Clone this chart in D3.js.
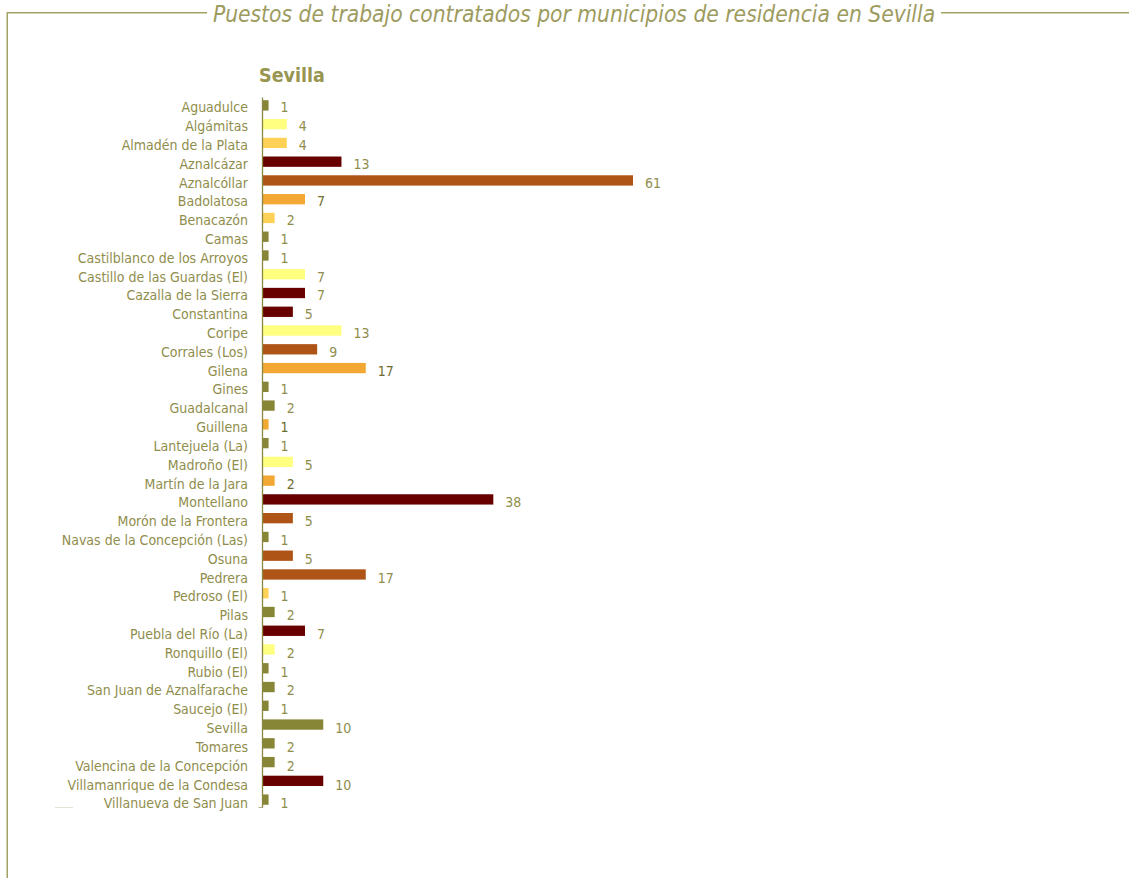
<!DOCTYPE html>
<html><head><meta charset="utf-8">
<script src="https://cdn.jsdelivr.net/npm/d3@7"></script>
<style>
html,body{margin:0;padding:0;background:#fff;}
svg{display:block;font-family:"DejaVu Sans Condensed","DejaVu Sans",sans-serif;}
</style></head><body>
<svg id="c" width="1129" height="878"></svg>
<script>
const title = "Puestos de trabajo contratados por municipios de residencia en Sevilla";
const subtitle = "Sevilla";
const categories = ["Aguadulce","Algámitas","Almadén de la Plata","Aznalcázar","Aznalcóllar","Badolatosa","Benacazón","Camas","Castilblanco de los Arroyos","Castillo de las Guardas (El)","Cazalla de la Sierra","Constantina","Coripe","Corrales (Los)","Gilena","Gines","Guadalcanal","Guillena","Lantejuela (La)","Madroño (El)","Martín de la Jara","Montellano","Morón de la Frontera","Navas de la Concepción (Las)","Osuna","Pedrera","Pedroso (El)","Pilas","Puebla del Río (La)","Ronquillo (El)","Rubio (El)","San Juan de Aznalfarache","Saucejo (El)","Sevilla","Tomares","Valencina de la Concepción","Villamanrique de la Condesa","Villanueva de San Juan"];
const values = [1,4,4,13,61,7,2,1,1,7,7,5,13,9,17,1,2,1,1,5,2,38,5,1,5,17,1,2,7,2,1,2,1,10,2,2,10,1];
const groups = ["olive","yellow","gold","darkred","rust","orange","gold","olive","olive","yellow","darkred","darkred","yellow","rust","orange","olive","olive","orange","olive","yellow","orange","darkred","rust","olive","rust","rust","gold","olive","darkred","yellow","olive","olive","olive","olive","olive","olive","darkred","olive"];
const groupNames = ["olive","yellow","gold","darkred","rust","orange"];
const groupColors = ["#878536","#FFFF80","#FFD257","#680000","#AE5417","#F2A833"];

const svg = d3.select("#c");
const textColor = "#8f8d4c";
const frameColor = "#a3a163";

// frame
svg.append("path").attr("d","M7.25,878 V12.75 H207 M941,12.75 H1129")
  .attr("fill","none").attr("stroke",frameColor).attr("stroke-width",1.5);
svg.append("text").attr("x",574).attr("y",22).attr("text-anchor","middle")
  .attr("font-size",22.6).attr("font-style","italic").attr("fill","#9d9b5e")
  .text(title);
svg.append("text").attr("x",259).attr("y",81.5).attr("font-size",19.5).attr("font-weight","bold")
  .attr("fill","#979550").text(subtitle);

const color = d3.scaleOrdinal().domain(groupNames).range(groupColors);
const x = d3.scaleLinear().domain([0,61]).range([262.5,633]);
const y = d3.scaleBand().domain(categories).range([96,809]).paddingInner(0.45).paddingOuter(0.225);

const data = categories.map((c,i)=>({c, v:values[i], g:groups[i]}));

svg.append("g").selectAll("rect").data(data).join("rect")
  .attr("x",x(0)).attr("y",d=>y(d.c)).attr("width",d=>x(d.v)-x(0)).attr("height",y.bandwidth())
  .attr("fill",d=>color(d.g));

svg.append("g").selectAll("text").data(data).join("text")
  .attr("x",248).attr("y",(d,i)=>y(d.c)+y.bandwidth()/2+2+i*0.05).attr("dy","0.35em")
  .attr("text-anchor","end").attr("font-size",14).attr("fill",textColor).text(d=>d.c);

svg.append("g").selectAll("text").data(data).join("text")
  .attr("x",d=>x(d.v)+12).attr("y",(d,i)=>y(d.c)+y.bandwidth()/2+2+i*0.05).attr("dy","0.35em")
  .attr("font-size",14).attr("fill",d=>d.g==="orange"?"#6f6d2e":textColor).text(d=>d.v);

// axis
const ax = svg.append("g").attr("transform","translate(262.5,0)")
  .call(d3.axisLeft(y).tickValues([]).tickSizeOuter(0));
ax.select(".domain").attr("stroke","#8a8840").attr("stroke-width",1.3)
  .attr("d","M0,97.5V808");
ax.append("line").attr("x1",-4).attr("x2",0).attr("y1",807.5).attr("y2",807.5)
  .attr("stroke","#b5b38a");
svg.append("line").attr("x1",55).attr("x2",73).attr("y1",807.5).attr("y2",807.5).attr("stroke","#e4e4d4");
</script></body></html>
